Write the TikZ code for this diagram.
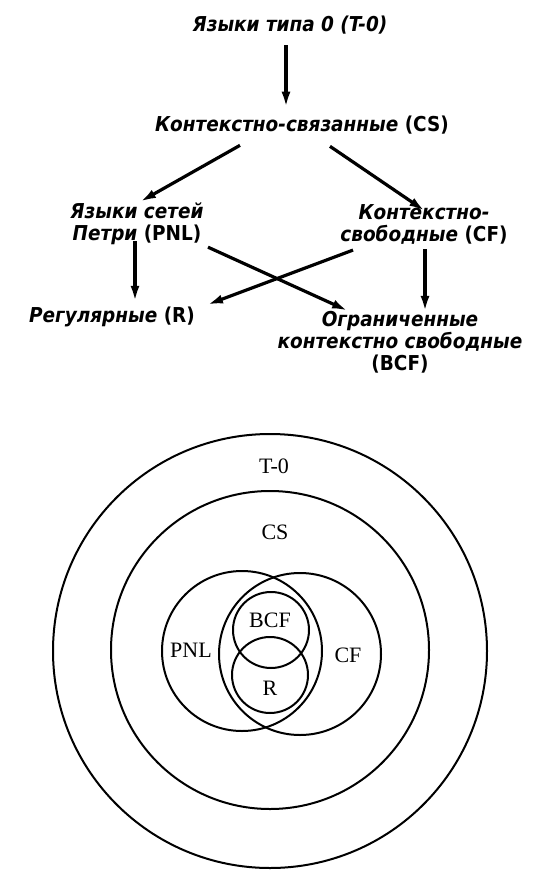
\documentclass[tikz,border=0pt]{standalone}
\usepackage{fontspec}
\usepackage{tikz}
\usetikzlibrary{arrows.meta}
\setmainfont{Liberation Serif}
\newfontfamily\rufont{DejaVu Sans Condensed}

\begin{document}
\begin{tikzpicture}[x=1pt,y=-1pt,
  lang/.style={font=\rufont\bfseries\itshape\fontsize{20.5}{22}\selectfont, align=center, inner sep=1pt},
  setlab/.style={font=\fontsize{22}{24}\selectfont, inner sep=1pt},
  arr/.style={line width=3.2pt, -{Latex[length=16pt,width=9pt]}}]
\useasboundingbox[fill=white] (0,0) rectangle (541,872);
% hierarchy
\node[lang] (t0) at (290,25) {Языки типа 0 (T-0)};
\node[lang] (cs) at (302,125) {Контекстно-связанные {\upshape(CS)}};
\node[lang] (pnl) at (137,224) {Языки сетей\\Петри {\upshape(PNL)}};
\node[lang] (cf) at (424,224) {Контекстно-\\свободные {\upshape(CF)}};
\node[lang] (r) at (112,317) {Регулярные {\upshape(R)}};
\node[lang] (bcf) at (400,342) {Ограниченные\\контекстно свободные\\{\upshape(BCF)}};
\draw[arr] ([xshift=-4pt,yshift=-10pt]t0.south) -- ([xshift=-16pt,yshift=7pt]cs.north);
\draw[arr] ([xshift=-62pt,yshift=-10pt]cs.south) -- ([xshift=3pt]pnl.north);
\draw[arr] ([xshift=28pt,yshift=-11pt]cs.south) -- ([xshift=1pt,yshift=-8pt]cf.north);
\draw[arr] ([xshift=-2pt,yshift=5pt]pnl.south) -- ([xshift=23pt,yshift=4pt]r.north);
\draw[arr] ([xshift=1pt,yshift=-4pt]cf.south) -- ([xshift=25pt,yshift=-2pt]bcf.north);
\draw[arr] ([xshift=71pt,yshift=-1pt]pnl.south) -- ([xshift=-52pt,yshift=-1pt]bcf.north);
\draw[arr] ([xshift=-71pt,yshift=-5pt]cf.south) -- ([xshift=95pt,yshift=1pt]r.north);
% nested sets
\draw[line width=2pt] (270,651) circle[radius=217pt];
\draw[line width=2pt] (270,650) circle[radius=159pt];
\draw[line width=2pt] (242,651) circle[radius=80pt];
\draw[line width=2pt] (300,654) circle[radius=81pt];
\draw[line width=2pt] (271,630) circle[radius=38pt];
\draw[line width=2pt] (270,675) circle[radius=38pt];
\node[setlab] (lt0) at (274,466) {T-0};
\node[setlab] (lcs) at (275,532) {CS};
\node[setlab] (lpnl) at (191,650) {PNL};
\node[setlab] (lcf) at (348,655) {CF};
\node[setlab] (lbcf) at (270,620) {BCF};
\node[setlab] (lr) at (270,688) {R};
\end{tikzpicture}
\end{document}
